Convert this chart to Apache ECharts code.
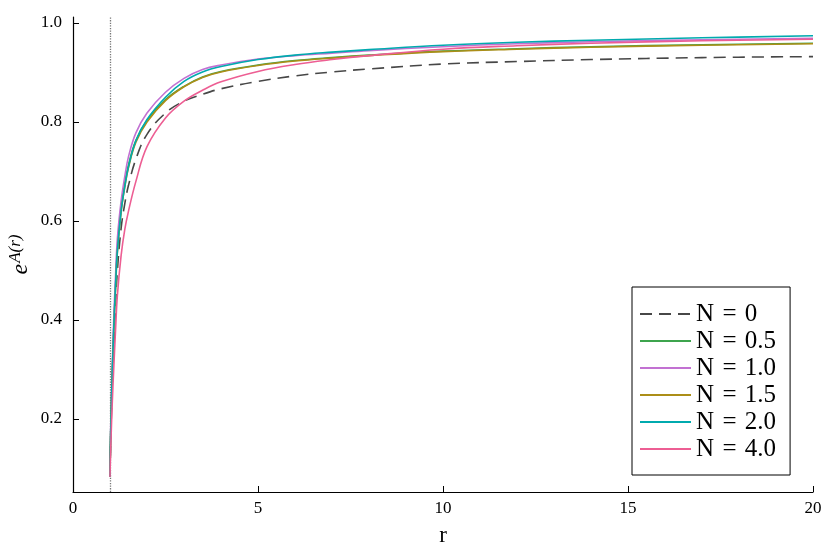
<!DOCTYPE html>
<html>
<head>
<meta charset="utf-8">
<script src="https://cdn.jsdelivr.net/npm/echarts@6/dist/echarts.min.js"></script>
<style>
html,body{margin:0;padding:0;background:#fff;}
#chart{width:830px;height:554px;}
</style>
</head>
<body>
<div id="chart"></div>
<script>
// radial coordinate samples
const rValues = [1, 1.01, 1.03, 1.06, 1.1, 1.15, 1.2, 1.3, 1.4, 1.5, 1.7, 2, 2.5, 3, 3.5, 4, 5, 6, 7, 8, 10, 12, 14, 17, 20];

// e^{A(r)}
const seriesN0  = [0.083, 0.13, 0.19, 0.26, 0.34, 0.43, 0.50, 0.585, 0.635, 0.672, 0.725, 0.775, 0.818, 0.842, 0.856, 0.867, 0.882, 0.893, 0.901, 0.907, 0.917, 0.922, 0.926, 0.930, 0.932];
const seriesN05 = [0.083, 0.14, 0.21, 0.29, 0.38, 0.47, 0.545, 0.625, 0.675, 0.713, 0.763, 0.803, 0.845, 0.872, 0.891, 0.902, 0.915, 0.924, 0.930, 0.935, 0.943, 0.948, 0.952, 0.956, 0.959];
const seriesN10 = [0.083, 0.15, 0.22, 0.30, 0.40, 0.49, 0.565, 0.64, 0.69, 0.73, 0.778, 0.818, 0.860, 0.888, 0.906, 0.915, 0.927, 0.934, 0.939, 0.944, 0.952, 0.958, 0.962, 0.966, 0.969];
const seriesN15 = [0.083, 0.135, 0.205, 0.283, 0.372, 0.462, 0.537, 0.618, 0.669, 0.708, 0.759, 0.800, 0.843, 0.871, 0.890, 0.901, 0.914, 0.923, 0.929, 0.934, 0.942, 0.947, 0.951, 0.955, 0.958];
const seriesN20 = [0.083, 0.14, 0.21, 0.29, 0.38, 0.47, 0.54, 0.62, 0.67, 0.71, 0.762, 0.805, 0.850, 0.882, 0.901, 0.912, 0.926, 0.935, 0.941, 0.946, 0.955, 0.961, 0.965, 0.970, 0.974];
const seriesN40 = [0.083, 0.115, 0.165, 0.23, 0.30, 0.38, 0.45, 0.53, 0.583, 0.62, 0.68, 0.75, 0.808, 0.842, 0.864, 0.881, 0.902, 0.916, 0.926, 0.934, 0.947, 0.954, 0.959, 0.964, 0.967];

const seriesNames = ['N\u2004=\u20040', 'N\u2004=\u20040.5', 'N\u2004=\u20041.0', 'N\u2004=\u20041.5', 'N\u2004=\u20042.0', 'N\u2004=\u20044.0'];
const seriesColors = ['#474747', '#3EA44E', '#C271D2', '#AC8E18', '#00AAAE', '#ED5E93'];
const seriesValues = [seriesN0, seriesN05, seriesN10, seriesN15, seriesN20, seriesN40];

const xTicks = [0, 5, 10, 15, 20];
const yTicks = [0.2, 0.4, 0.6, 0.8, 1.0];
const horizonR = 1;

const FONT = 'Liberation Serif';

const chart = echarts.init(document.getElementById('chart'), null, {renderer: 'canvas'});

const series = seriesValues.map((vals, i) => {
  const s = {
    name: seriesNames[i],
    type: 'line',
    data: rValues.map((r, j) => [r, vals[j]]),
    showSymbol: false,
    symbol: 'none',
    smooth: 0.4,
    lineStyle: {color: seriesColors[i], width: 1.6, type: i === 0 ? [12, 7] : 'solid'},
    itemStyle: {color: seriesColors[i]},
    z: 2 + i
  };
  if (i === 0) {
    s.markLine = {
      silent: true,
      symbol: ['none', 'none'],
      label: {show: false},
      lineStyle: {type: 'dotted', color: '#777', width: 1.3},
      data: [{xAxis: horizonR}]
    };
  }
  return s;
});

chart.setOption({
  animation: false,
  backgroundColor: '#fff',
  grid: {left: 73, right: 17, top: 17, bottom: 62, containLabel: false, outerBoundsMode: 'none'},
  xAxis: {
    type: 'value',
    min: 0, max: 20, interval: 5,
    axisLine: {show: true, onZero: false, lineStyle: {color: '#000', width: 1.2}},
    axisTick: {show: true, inside: true, length: 6, lineStyle: {color: '#000', width: 1}},
    axisLabel: {fontFamily: FONT, fontSize: 17, color: '#000', margin: 8, formatter: v => String(v)},
    splitLine: {show: false},
    name: 'r',
    nameLocation: 'middle',
    nameGap: 32,
    nameMoveOverlap: false,
    nameTextStyle: {fontFamily: FONT, fontSize: 23, color: '#000'}
  },
  yAxis: {
    type: 'value',
    min: 0.0525, max: 1.012,
    axisLine: {show: true, onZero: false, lineStyle: {color: '#000', width: 1.2}},
    axisTick: {show: true, inside: true, length: 6, customValues: yTicks, lineStyle: {color: '#000', width: 1}},
    axisLabel: {customValues: yTicks, fontFamily: FONT, fontSize: 17, color: '#000', margin: 11, formatter: v => v.toFixed(1)},
    splitLine: {show: false},
    name: '{e|e}{s|A(r)}',
    nameLocation: 'middle',
    nameGap: 40,
    nameRotate: 90,
    nameMoveOverlap: false,
    nameTextStyle: {
      color: '#000',
      rich: {
        e: {fontFamily: FONT, fontSize: 24, fontStyle: 'italic', color: '#000', verticalAlign: 'bottom'},
        s: {fontFamily: FONT, fontSize: 17, fontStyle: 'italic', color: '#000', verticalAlign: 'bottom', padding: [0, 0, 9, 1]}
      }
    }
  },
  legend: {
    data: seriesNames,
    orient: 'vertical',
    left: 632,
    top: 287,
    padding: [14, 14, 13, 7],
    borderColor: '#000',
    borderWidth: 1,
    borderRadius: 0,
    backgroundColor: '#fff',
    itemWidth: 51,
    itemHeight: 14,
    itemGap: 1,
    itemStyle: {opacity: 0},
    textStyle: {fontFamily: FONT, fontSize: 25, color: '#000', lineHeight: 26},
    selectedMode: false
  },
  series: series
});
</script>
</body>
</html>
